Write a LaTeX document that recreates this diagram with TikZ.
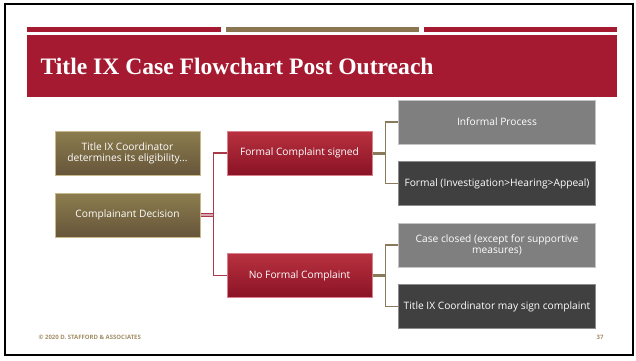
\documentclass[tikz,border=0pt]{standalone}
\usepackage{fontspec}
\setmainfont{Liberation Serif}
\newfontfamily\boxfont{Open Sans}
\usetikzlibrary{positioning}

\definecolor{crimson}{HTML}{A51A30}
\definecolor{tanbar}{HTML}{8B7651}
\definecolor{goldtop}{HTML}{8C7D4E}
\definecolor{goldbot}{HTML}{66553A}
\definecolor{goldrim}{HTML}{C8B98C}
\definecolor{redtop}{HTML}{B8313F}
\definecolor{redbot}{HTML}{8A1325}
\definecolor{redrim}{HTML}{D9808C}
\definecolor{greybox}{HTML}{7F7F7F}
\definecolor{greyrim}{HTML}{C4C4C4}
\definecolor{darkbox}{HTML}{404040}
\definecolor{darkrim}{HTML}{8C8C8C}
\definecolor{redline}{HTML}{A83A4C}
\definecolor{tanline}{HTML}{8A7A5C}
\definecolor{footer}{HTML}{A08C64}

\tikzset{
  box/.style={minimum height=44pt, inner sep=2pt, align=center, text=white,
    font=\boxfont\fontsize{10.2}{11.2}\selectfont, line width=1pt},
  goldbox/.style={box, minimum width=145pt, top color=goldtop, bottom color=goldbot, draw=goldrim},
  redbox/.style={box, minimum width=145pt, top color=redtop, bottom color=redbot, draw=redrim},
  greybox/.style={box, minimum width=197pt, fill=greybox, draw=greyrim},
  darkbox/.style={box, minimum width=197pt, fill=darkbox, draw=darkrim},
  redlink/.style={draw=redline, line width=1.2pt},
  tanlink/.style={draw=tanline, line width=1.2pt}
}

\begin{document}
\begin{tikzpicture}[x=1pt,y=-1pt]
  \useasboundingbox (0,0) rectangle (636,360);
  % slide frame
  \draw [line width=2pt] (5,4) rectangle (633,355);
  % top bars and title band
  \fill [crimson] (27,27) rectangle (221,32);
  \fill [tanbar] (226,27) rectangle (419,32);
  \fill [crimson] (424,27) rectangle (617,32);
  \fill [crimson] (27,35) rectangle (617,97);
  \node [anchor=west, text=white, font=\fontsize{23.6}{27}\selectfont\bfseries] (title) at (37,66) {Title IX Case Flowchart Post Outreach};

  % left column
  \node [goldbox] (elig) at (127.5,153) {Title IX Coordinator\\determines its eligibility...};
  \node [goldbox] (decide) at (127.5,215) {Complainant Decision};

  % middle column
  \node [redbox] (formal) at (299.5,153) {Formal Complaint signed};
  \node [redbox] (noformal) at (299.5,275.5) {No Formal Complaint};

  % right column
  \node [greybox] (informal) at (497,122) {Informal Process};
  \node [darkbox] (process) at (497,183.5) {Formal (Investigation>Hearing>Appeal)};
  \node [greybox] (closed) at (497,245) {Case closed (except for supportive\\measures)};
  \node [darkbox] (sign) at (497,306.5) {Title IX Coordinator may sign complaint};

  % connectors
  \draw [redlink, line width=4pt] (decide.east) -- ++(13,0) coordinate (splitA);
  \draw [white!55!redline, line width=2pt] (decide.east) -- (splitA);
  \draw [redlink] (formal.west) -| (splitA) |- (noformal.west);

  \draw [tanlink, line width=3pt] (formal.east) -- ++(13,0) coordinate (splitB);
  \draw [tanlink] (informal.west) -| (splitB) |- (process.west);

  \draw [tanlink, line width=3pt] (noformal.east) -- ++(13,0) coordinate (splitC);
  \draw [tanlink] (closed.west) -| (splitC) |- (sign.west);

  % footer
  \node [anchor=west, text=footer, font=\boxfont\bfseries\fontsize{6}{7}\selectfont] (copy) at (35,337) {\textcopyright{} 2020 D. STAFFORD \& ASSOCIATES};
  \node [text=footer, font=\boxfont\bfseries\fontsize{6}{7}\selectfont] (page) at (600,337) {37};
\end{tikzpicture}
\end{document}
